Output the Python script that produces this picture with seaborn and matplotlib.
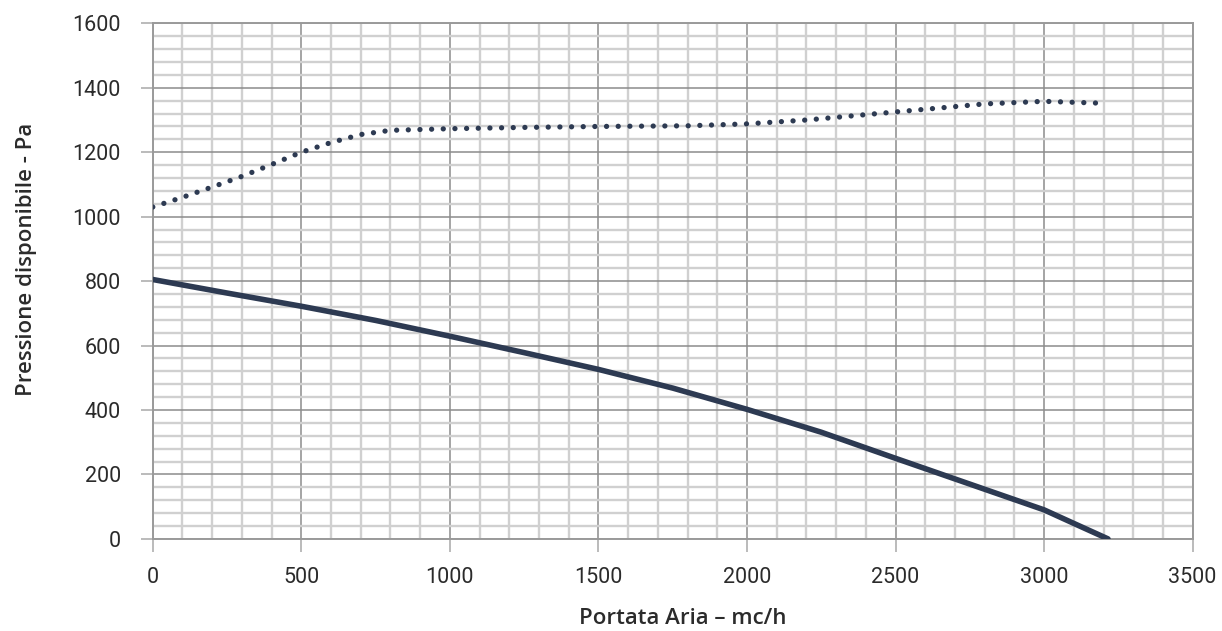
import matplotlib
matplotlib.use("Agg")
import matplotlib.pyplot as plt
import numpy as np
import pandas as pd
import seaborn as sns
from matplotlib.ticker import MultipleLocator

# Portata (mc/h) vs pressione disponibile (Pa)
flow_solid = [0, 250, 500, 750, 1000, 1250, 1500, 1750, 2000, 2250, 2500, 2750, 3000, 3100, 3215]
press_solid = [805, 763, 722, 678, 629, 578, 526, 468, 402, 331, 250, 170, 90, 48, 0]

flow_dotted = [0, 100, 200, 300, 400, 500, 600, 700, 800, 1000, 1250, 1500, 1800,
               2000, 2200, 2500, 2800, 3000, 3200]
press_dotted = [1030, 1060, 1092, 1125, 1162, 1200, 1230, 1255, 1268, 1273, 1277,
                1280, 1282, 1288, 1300, 1325, 1350, 1358, 1352]

X_LABEL = "Portata Aria \u2013 mc/h"
Y_LABEL = "Pressione disponibile - Pa"

LINE_COLOR = "#2d3a52"
TEXT_COLOR = "#2b2b2b"

sns.set_theme(style="white")
plt.rcParams["font.family"] = ["Roboto", "DejaVu Sans"]

fig, ax = plt.subplots(figsize=(12.22, 6.31), dpi=100)
fig.subplots_adjust(left=0.125, right=0.976, top=0.963, bottom=0.146)

df_solid = pd.DataFrame({"flow": flow_solid, "press": press_solid})
df_dotted = pd.DataFrame({"flow": flow_dotted, "press": press_dotted})

sns.lineplot(data=df_solid, x="flow", y="press", ax=ax, color=LINE_COLOR,
             linewidth=4.0, solid_capstyle="round", solid_joinstyle="round", zorder=5)
sns.lineplot(data=df_dotted, x="flow", y="press", ax=ax, color=LINE_COLOR,
             linewidth=3.8, zorder=5)
dotted = ax.lines[-1]
dotted.set_dashes((0.01, 2.2))
dotted.set_dash_capstyle("round")

ax.set_xlim(0, 3500)
ax.set_ylim(0, 1600)
ax.xaxis.set_major_locator(MultipleLocator(500))
ax.xaxis.set_minor_locator(MultipleLocator(100))
ax.yaxis.set_major_locator(MultipleLocator(200))
ax.yaxis.set_minor_locator(MultipleLocator(40))

ax.grid(which="major", color="#8c8c8c", linewidth=1.1, zorder=1)
ax.grid(which="minor", color="#d0d0d0", linewidth=1.7, zorder=0)
ax.set_axisbelow(True)

for sp in ax.spines.values():
    sp.set_color("#9a9a9a")
    sp.set_linewidth(1.4)

ax.tick_params(which="major", direction="out", length=9, width=1.1,
               color="#a8a8a8", labelsize=15.5, labelcolor=TEXT_COLOR,
               bottom=True, left=True)
ax.tick_params(axis="y", which="major", pad=14)
ax.tick_params(axis="x", which="major", pad=11)
ax.tick_params(which="minor", length=0)

label_font = dict(family=["Open Sans", "DejaVu Sans"], fontsize=16,
                  fontweight="semibold", color=TEXT_COLOR)
ax.set_xlabel(X_LABEL, **label_font)
ax.set_ylabel(Y_LABEL, **label_font)
ax.xaxis.set_label_coords(0.5096, -0.134)
ax.yaxis.set_label_coords(-0.111, 0.542)

fig.savefig("out.png", dpi=100)
